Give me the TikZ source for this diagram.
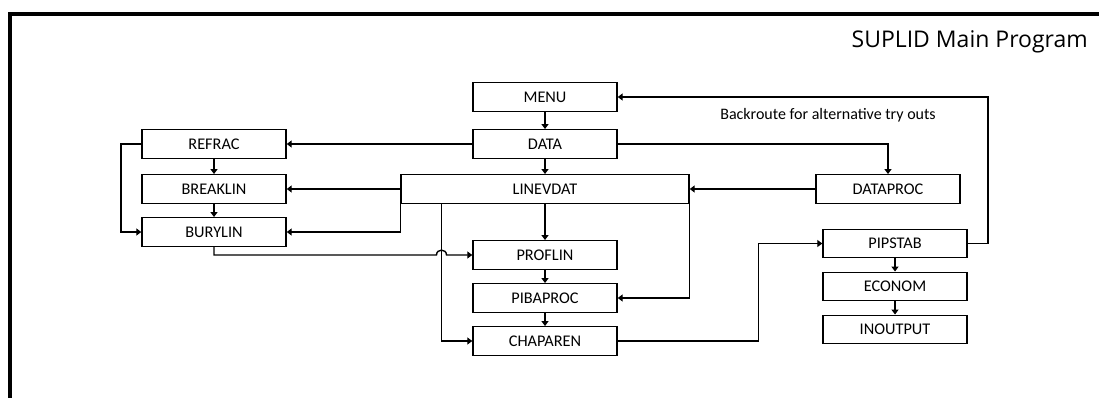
\documentclass[tikz,border=0pt]{standalone}
\usepackage{fontspec}
\setmainfont{Carlito}
\newfontfamily\titlefont{Open Sans}
\usetikzlibrary{arrows.meta}

\begin{document}
\begin{tikzpicture}[
  x=1pt, y=-1pt,
  box/.style={draw, line width=1.4pt, minimum width=144pt, minimum height=28.5pt,
              inner sep=0pt, font=\fontsize{16.3}{19}\selectfont},
  widebox/.style={box, minimum width=288pt},
  link/.style={line width=1.4pt, -{Triangle[length=5pt,width=7pt]}},
]
\useasboundingbox (0,0) rectangle (1099,398);
\clip (0,0) rectangle (1099,398);

% outer frame
\draw[line width=4pt] (10,400) -- (10,14) -- (1102,14);

% title
\node[anchor=base east, inner sep=0pt, font=\titlefont\fontsize{23}{27}\selectfont] (title) at (1088,48) {SUPLID Main Program};

% centre column
\node[box] (menu) at (545,97) {MENU};
\node[box] (data) at (545,144) {DATA};
\node[widebox] (linevdat) at (545,189) {LINEVDAT};
\node[box] (proflin) at (545,255) {PROFLIN};
\node[box] (pibaproc) at (545,298) {PIBAPROC};
\node[box] (chaparen) at (545,341) {CHAPAREN};

% left column
\node[box] (refrac) at (214,144) {REFRAC};
\node[box] (breaklin) at (214,189) {BREAKLIN};
\node[box] (burylin) at (214,232) {BURYLIN};

% right column
\node[box] (dataproc) at (888,189) {DATAPROC};
\node[box] (pipstab) at (895,243.5) {PIPSTAB};
\node[box] (econom) at (895,286.5) {ECONOM};
\node[box] (inoutput) at (895,329.5) {INOUTPUT};

% label of the return path
\node[inner sep=0pt, font=\fontsize{16}{19}\selectfont] (backlabel) at (828,115) {Backroute for alternative try outs};

% turning points
\coordinate (lvmid) at (441.5,0);
\coordinate (riseX) at (758.5,0);
\coordinate (backX) at (988,0);
\coordinate (leftX) at (121,0);

% straight chain
\draw[link] (menu) -- (data);
\draw[link] (data) -- (linevdat);
\draw[link] (linevdat) -- (proflin);
\draw[link] (proflin) -- (pibaproc);
\draw[link] (pibaproc) -- (chaparen);
\draw[link] (refrac) -- (breaklin);
\draw[link] (breaklin) -- (burylin);
\draw[link] (pipstab) -- (econom);
\draw[link] (econom) -- (inoutput);

% branches from DATA
\draw[link] (data.west) -- (refrac.east);
\draw[link] (data.east) -| (dataproc.north);

% into and out of LINEVDAT
\draw[link] (dataproc.west) -- (linevdat.east);
\draw[link] (linevdat.west) -- (breaklin.east);
\draw[link] (linevdat.south west) |- (burylin.east);
\draw[link] (linevdat.south east) |- (pibaproc.east);
\draw[link] (linevdat.south -| lvmid) |- (chaparen.west);

% REFRAC round to BURYLIN
\draw[link] (refrac.west) -| (leftX |- burylin.west) -- (burylin.west);

% BURYLIN to PROFLIN, hopping over the vertical line
\draw[link] (burylin.south) |- (436.5,255)
  .. controls (436.5,248.5) and (446.5,248.5) .. (446.5,255) -- (proflin.west);

% CHAPAREN up to PIPSTAB
\draw[link] (chaparen.east) -| (riseX |- pipstab.west) -- (pipstab.west);

% return path to MENU
\draw[link] (pipstab.east) -| (backX |- menu.east) -- (menu.east);
\end{tikzpicture}
\end{document}
